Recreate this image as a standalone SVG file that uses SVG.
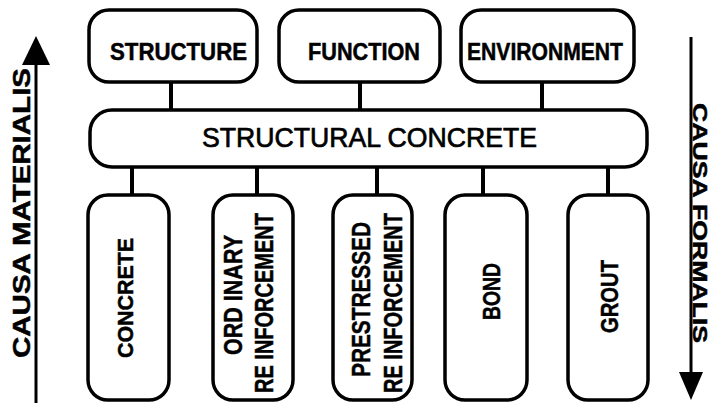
<svg xmlns="http://www.w3.org/2000/svg" width="715" height="403" viewBox="0 0 715 403">
  <style>
    .box { fill: #fff; stroke: #000; stroke-width: 3.5; }
    .conn { stroke: #000; stroke-width: 4; fill: none; }
    .lbl { font-family: "Liberation Sans", Arial, sans-serif; font-weight: bold; fill: #000; stroke: #000; stroke-width: 0.5; text-anchor: middle; }
    .main { font-family: "Liberation Sans", Arial, sans-serif; font-weight: normal; fill: #000; stroke: #000; stroke-width: 0.7; text-anchor: middle; }
    .axis { stroke: #000; stroke-width: 3; fill: none; }
  </style>
  <rect width="715" height="403" fill="#fff"/>

  <g id="connectors">
    <line class="conn" x1="171" y1="82" x2="171" y2="110"/>
    <line class="conn" x1="360" y1="82" x2="360" y2="110"/>
    <line class="conn" x1="542" y1="82" x2="542" y2="110"/>
    <line class="conn" x1="132" y1="166" x2="132" y2="195"/>
    <line class="conn" x1="257" y1="166" x2="257" y2="195"/>
    <line class="conn" x1="377" y1="166" x2="377" y2="195"/>
    <line class="conn" x1="483" y1="166" x2="483" y2="195"/>
    <line class="conn" x1="608" y1="166" x2="608" y2="195"/>
  </g>

  <g id="causa-materialis">
    <line class="axis" x1="36" y1="60" x2="36" y2="403"/>
    <polygon points="36,36 50,65 22,65" fill="#000"/>
    <text class="lbl" font-size="24" transform="translate(30,213) rotate(-90)" textLength="290" lengthAdjust="spacingAndGlyphs">CAUSA MATERIALIS</text>
  </g>

  <g id="causa-formalis">
    <line class="axis" x1="691" y1="37" x2="691" y2="380"/>
    <polygon points="679,372 703,372 691,400" fill="#000"/>
    <text class="lbl" font-size="21" transform="translate(693,223) rotate(90)" textLength="240" lengthAdjust="spacingAndGlyphs">CAUSA FORMALIS</text>
  </g>

  <g id="structure">
    <rect class="box" x="89" y="10" width="168" height="72" rx="20"/>
    <text class="lbl" font-size="24" x="178.5" y="60" textLength="137" lengthAdjust="spacingAndGlyphs">STRUCTURE</text>
  </g>
  <g id="function">
    <rect class="box" x="279" y="10" width="161" height="72" rx="20"/>
    <text class="lbl" font-size="24" x="364" y="60" textLength="112" lengthAdjust="spacingAndGlyphs">FUNCTION</text>
  </g>
  <g id="environment">
    <rect class="box" x="461" y="10" width="173" height="72" rx="20"/>
    <text class="lbl" font-size="24" x="545" y="60" textLength="156" lengthAdjust="spacingAndGlyphs">ENVIRONMENT</text>
  </g>

  <g id="structural-concrete">
    <rect class="box" x="90" y="110" width="557" height="57" rx="22"/>
    <text class="main" font-size="28" x="369.5" y="147" textLength="335" lengthAdjust="spacingAndGlyphs">STRUCTURAL CONCRETE</text>
  </g>

  <g id="concrete">
    <rect class="box" x="88" y="195" width="81" height="205" rx="20"/>
    <text class="lbl" font-size="22" transform="translate(133,298) rotate(-90)" textLength="120" lengthAdjust="spacingAndGlyphs">CONCRETE</text>
  </g>
  <g id="ordinary-reinforcement">
    <rect class="box" x="213" y="195" width="80" height="205" rx="20"/>
    <text class="lbl" font-size="25" transform="translate(242,295) rotate(-90)" textLength="120" lengthAdjust="spacingAndGlyphs">ORD INARY</text>
    <text class="lbl" font-size="25" transform="translate(273,303) rotate(-90)" textLength="180" lengthAdjust="spacingAndGlyphs">RE INFORCEMENT</text>
  </g>
  <g id="prestressed-reinforcement">
    <rect class="box" x="333" y="195" width="79" height="205" rx="20"/>
    <text class="lbl" font-size="25" transform="translate(370,299.5) rotate(-90)" textLength="155" lengthAdjust="spacingAndGlyphs">PRESTRESSED</text>
    <text class="lbl" font-size="25" transform="translate(402,303) rotate(-90)" textLength="180" lengthAdjust="spacingAndGlyphs">RE INFORCEMENT</text>
  </g>
  <g id="bond">
    <rect class="box" x="445" y="195" width="82" height="205" rx="20"/>
    <text class="lbl" font-size="24" transform="translate(500,291.5) rotate(-90)" textLength="57" lengthAdjust="spacingAndGlyphs">BOND</text>
  </g>
  <g id="grout">
    <rect class="box" x="568" y="195" width="80" height="205" rx="20"/>
    <text class="lbl" font-size="24" transform="translate(618,296.5) rotate(-90)" textLength="73" lengthAdjust="spacingAndGlyphs">GROUT</text>
  </g>
</svg>
